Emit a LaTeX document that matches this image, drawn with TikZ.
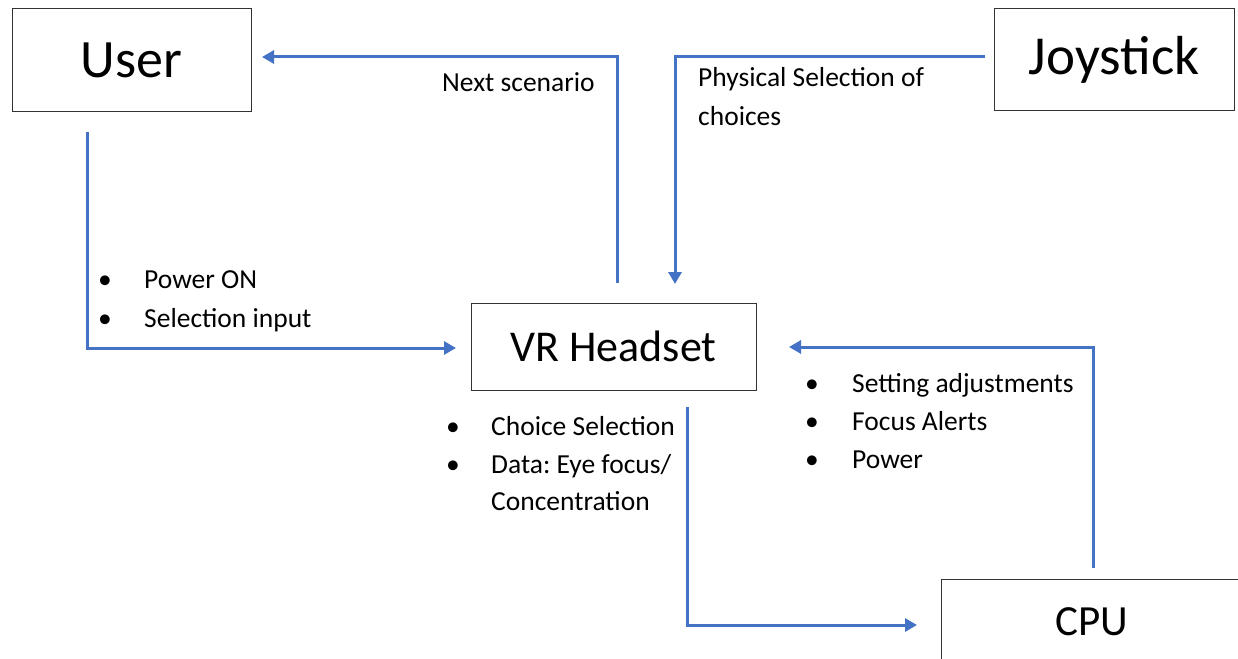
\documentclass[tikz,border=0pt]{standalone}
\usepackage{fontspec}
\setmainfont{Carlito}
\usetikzlibrary{arrows.meta}
\definecolor{lineblue}{HTML}{4472C4}
\frenchspacing
\begin{document}
\begin{tikzpicture}[x=1pt,y=-1pt,
  box/.style={draw=black!80,line width=1pt,inner sep=0pt},
  conn/.style={draw=lineblue,line width=3pt,-{Triangle[length=12pt,width=13pt]}},
  lbl/.style={anchor=base west,inner sep=0pt,font=\fontsize{27.5}{33}\selectfont},
  bul/.style={anchor=base,inner sep=0pt,font=\fontsize{27.5}{33}\selectfont}]
\useasboundingbox (0,0) rectangle (1238,658);
\fill[white] (0,0) rectangle (1238,658);
% boxes
\node[box,minimum width=239pt,minimum height=103pt] (user) at (131.5,60.5) {\fontsize{54}{60}\selectfont User};
\node[box,minimum width=240pt,minimum height=102pt] (joy) at (1114,60) {\fontsize{55}{60}\selectfont Joystick};
\node[box,minimum width=285pt,minimum height=87pt] (vr) at (613.5,346.5) {\fontsize{44}{50}\selectfont VR Headset};
\draw[draw=black!80,line width=1pt] (1250,579) -- (941,579) -- (941,670);
\node[inner sep=0pt,anchor=base] (cpu) at (1092,635) {\fontsize{43}{50}\selectfont CPU};
% anchor coordinates
\coordinate (u1) at (87,132);
\coordinate (u2) at (87,348);
\coordinate (vrL) at (456,348);
\coordinate (v1) at (617,283);
\coordinate (v2) at (617,57);
\coordinate (userR) at (262,57);
\coordinate (j1) at (985,57);
\coordinate (j2) at (675,57);
\coordinate (vrT) at (675,284);
\coordinate (c1) at (687,407);
\coordinate (c2) at (687,625);
\coordinate (cpuL) at (917,625);
\coordinate (p1) at (1093,568);
\coordinate (p2) at (1093,347);
\coordinate (vrR) at (789,347);
% connectors
\draw[conn] (u1) -- (u2) -- (vrL);
\draw[conn] (v1) -- (v2) -- (userR);
\draw[conn] (j1) -- (j2) -- (vrT);
\draw[conn] (c1) -- (c2) -- (cpuL);
\draw[conn] (p1) -- (p2) -- (vrR);
% labels
\node[lbl] (ns) at (442,92) {Next scenario};
\node[lbl] (ps1) at (698,87) {Physical Selection of};
\node[lbl] (ps2) at (698,125) {choices};
\node[bul] (b1) at (105,288) {•};
\node[lbl] (t1) at (144,288) {Power ON};
\node[bul] (b2) at (105,327) {•};
\node[lbl] (t2) at (144,327) {Selection input};
\node[bul] (b3) at (453,435) {•};
\node[lbl] (t3) at (491,435) {Choice Selection};
\node[bul] (b4) at (453,473) {•};
\node[lbl] (t4) at (491,473) {Data: Eye focus/};
\node[lbl] (t5) at (491,510) {Concentration};
\node[bul] (b5) at (812,392) {•};
\node[lbl] (t6) at (852,392) {Setting adjustments};
\node[bul] (b6) at (812,430) {•};
\node[lbl] (t7) at (852,430) {Focus Alerts};
\node[bul] (b7) at (812,468) {•};
\node[lbl] (t8) at (852,468) {Power};
\end{tikzpicture}
\end{document}
